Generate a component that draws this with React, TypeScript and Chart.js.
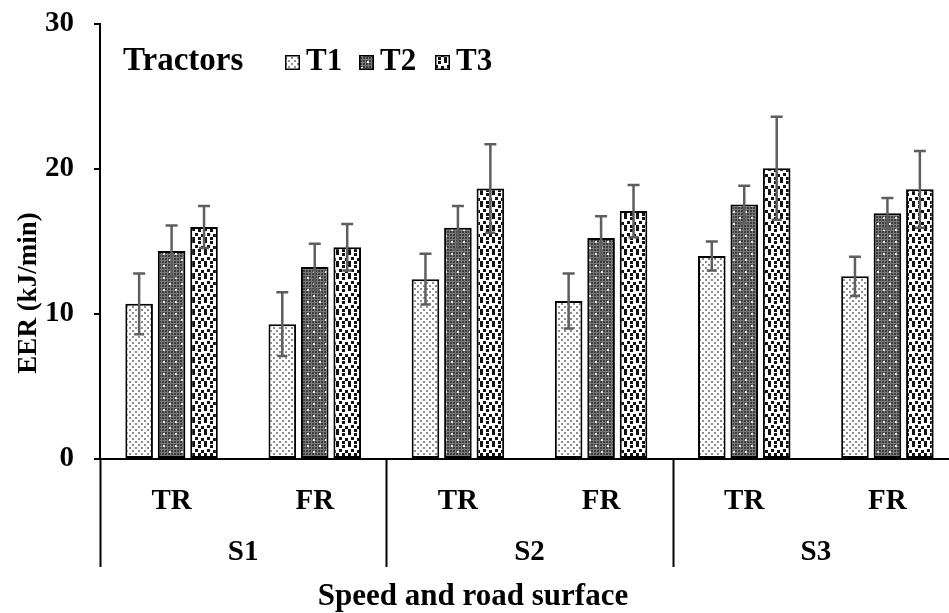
import React, { useEffect, useRef } from 'react';
import { Chart, registerables } from 'chart.js';

Chart.register(...registerables);

// Road surface (TR / FR) within each speed level (S1..S3)
const categories = ['TR', 'FR', 'TR', 'FR', 'TR', 'FR'];
const speedGroups = ['S1', 'S2', 'S3'];
const tractorNames = ['T1', 'T2', 'T3'];

// Mean EER (kJ/min) and standard deviation per tractor
const t1Mean = [10.7, 9.3, 12.4, 10.9, 14.0, 12.6];
const t1Sd = [2.1, 2.2, 1.75, 1.9, 1.0, 1.35];
const t2Mean = [14.35, 13.25, 15.95, 15.25, 17.55, 16.95];
const t2Sd = [1.75, 1.6, 1.5, 1.5, 1.3, 1.05];
const t3Mean = [16.0, 14.6, 18.65, 17.1, 20.05, 18.6];
const t3Sd = [1.45, 1.6, 3.05, 1.8, 3.55, 2.65];

const yMin = 0;
const yMax = 30;
const yStep = 10;

const FONT = "'Liberation Serif', 'Times New Roman', serif";

function makeTile(size: number, draw: (g: CanvasRenderingContext2D) => void) {
  const c = document.createElement('canvas');
  c.width = size;
  c.height = size;
  const g = c.getContext('2d') as CanvasRenderingContext2D;
  draw(g);
  return c;
}

// light dotted fill
const tileT1 = () =>
  makeTile(6, (g) => {
    g.fillStyle = '#ffffff';
    g.fillRect(0, 0, 6, 6);
    g.fillStyle = '#8e8e8e';
    g.fillRect(0, 0, 2, 2);
    g.fillRect(3, 3, 2, 2);
  });

// dense dark grid with pale dots
const tileT2 = () =>
  makeTile(12, (g) => {
    g.fillStyle = '#7a7a7a';
    g.fillRect(0, 0, 12, 12);
    g.fillStyle = '#3c3c3c';
    for (let x = 0; x < 12; x += 3) {
      for (let y = 0; y < 12; y += 3) {
        g.fillRect(x, y, 2, 2);
      }
    }
    g.fillStyle = '#e6e6e6';
    g.fillRect(1, 7, 2, 2);
    g.fillRect(7, 1, 2, 2);
  });

// coarse black confetti on white
const tileT3 = () =>
  makeTile(12, (g) => {
    g.fillStyle = '#ffffff';
    g.fillRect(0, 0, 12, 12);
    g.fillStyle = '#111111';
    const spots = [
      [0, 0], [6, 1], [3, 5], [9, 6], [0, 9], [6, 9],
    ];
    spots.forEach(([x, y]) => g.fillRect(x, y, 3, 3));
  });

export default function App() {
  const canvasRef = useRef<HTMLCanvasElement | null>(null);

  useEffect(() => {
    const canvas = canvasRef.current;
    if (!canvas) return;
    const ctx = canvas.getContext('2d') as CanvasRenderingContext2D;

    const fills = [tileT1(), tileT2(), tileT3()].map(
      (t) => ctx.createPattern(t, 'repeat') as CanvasPattern
    );
    const sds = [t1Sd, t2Sd, t3Sd];

    const decorations = {
      id: 'decorations',
      afterDatasetsDraw(chart: any) {
        const c = chart.ctx as CanvasRenderingContext2D;
        const ys = chart.scales.y;
        chart.data.datasets.forEach((ds: any, di: number) => {
          const meta = chart.getDatasetMeta(di);
          meta.data.forEach((bar: any, i: number) => {
            const v = ds.data[i] as number;
            const e = sds[di][i];
            const top = ys.getPixelForValue(v + e);
            const bot = ys.getPixelForValue(v - e);
            c.save();
            c.strokeStyle = '#5e5e5e';
            c.lineWidth = 2.5;
            c.beginPath();
            c.moveTo(bar.x, top);
            c.lineTo(bar.x, bot);
            c.moveTo(bar.x - 6, top);
            c.lineTo(bar.x + 6, top);
            c.moveTo(bar.x - 5, bot);
            c.lineTo(bar.x + 5, bot);
            c.stroke();
            c.restore();
          });
        });
      },
      afterDraw(chart: any) {
        const c = chart.ctx as CanvasRenderingContext2D;
        const xs = chart.scales.x;
        const area = chart.chartArea;
        const catW = (area.right - area.left) / categories.length;

        c.save();
        // group dividers below the axis
        c.strokeStyle = '#000';
        c.lineWidth = 2;
        for (let g = 0; g <= speedGroups.length; g++) {
          const x = Math.round(xs.getPixelForValue(g * 2) - catW / 2) + 0.5;
          c.beginPath();
          c.moveTo(x, area.bottom);
          c.lineTo(x, 567);
          c.stroke();
        }

        // speed labels
        c.fillStyle = '#000';
        c.textAlign = 'center';
        c.textBaseline = 'alphabetic';
        c.font = `bold 29px ${FONT}`;
        speedGroups.forEach((s, g) => {
          const x = (xs.getPixelForValue(g * 2) + xs.getPixelForValue(g * 2 + 1)) / 2;
          c.fillText(s, x, 560);
        });

        // axis titles
        c.font = `bold 31px ${FONT}`;
        c.fillText('Speed and road surface', 473, 605);

        c.save();
        c.translate(36, 293);
        c.rotate(-Math.PI / 2);
        c.font = `bold 27px ${FONT}`;
        c.fillText('EER (kJ/min)', 0, 0);
        c.restore();

        // legend
        c.textAlign = 'left';
        c.font = `bold 33px ${FONT}`;
        c.fillText('Tractors', area.left + 23, 70);
        c.font = `bold 31px ${FONT}`;
        const boxX = [285, 359, 435];
        tractorNames.forEach((name, i) => {
          c.fillStyle = fills[i];
          c.fillRect(boxX[i], 55, 15, 15);
          c.strokeStyle = '#000';
          c.lineWidth = 1.5;
          c.strokeRect(boxX[i] + 0.75, 55.75, 13.5, 13.5);
          c.fillStyle = '#000';
          c.fillText(name, boxX[i] + 21, 70);
        });
        c.restore();
      },
    };

    const chart = new Chart(ctx, {
      type: 'bar',
      data: {
        labels: categories,
        datasets: [t1Mean, t2Mean, t3Mean].map((d, i) => ({
          label: tractorNames[i],
          data: d,
          backgroundColor: fills[i],
          borderColor: '#000',
          borderWidth: 2,
          borderSkipped: false,
          categoryPercentage: 0.68,
          barPercentage: 0.85,
        })),
      },
      options: {
        animation: false,
        responsive: false,
        devicePixelRatio: 1,
        layout: { padding: { top: 24, right: 16, left: 0, bottom: 0 } },
        plugins: {
          legend: { display: false },
          tooltip: { enabled: false },
          title: { display: false },
        },
        scales: {
          x: {
            grid: { display: false },
            border: { display: true, color: '#000', width: 2 },
            ticks: {
              color: '#000',
              font: { family: FONT, weight: 'bold', size: 29 },
              padding: 17,
              maxRotation: 0,
              autoSkip: false,
            },
            afterFit: (scale: any) => {
              scale.height = 154;
              scale.paddingLeft = 0;
              scale.paddingRight = 0;
            },
          },
          y: {
            min: yMin,
            max: yMax,
            grid: {
              drawOnChartArea: false,
              drawTicks: true,
              tickLength: 6,
              color: '#000',
              lineWidth: 2,
            },
            border: { display: true, color: '#000', width: 2 },
            ticks: {
              stepSize: yStep,
              color: '#000',
              font: { family: FONT, weight: 'bold', size: 29 },
              padding: 20,
            },
            afterFit: (scale: any) => {
              scale.width = 100;
              scale.paddingTop = 0;
              scale.paddingBottom = 0;
            },
          },
        },
      },
      plugins: [decorations],
    });

    return () => chart.destroy();
  }, []);

  return (
    <div
      style={{
        position: 'fixed',
        left: 0,
        top: 0,
        width: 949,
        height: 613,
        overflow: 'hidden',
        background: '#fff',
      }}
    >
      <canvas ref={canvasRef} width={975} height={613} style={{ display: 'block' }} />
    </div>
  );
}
